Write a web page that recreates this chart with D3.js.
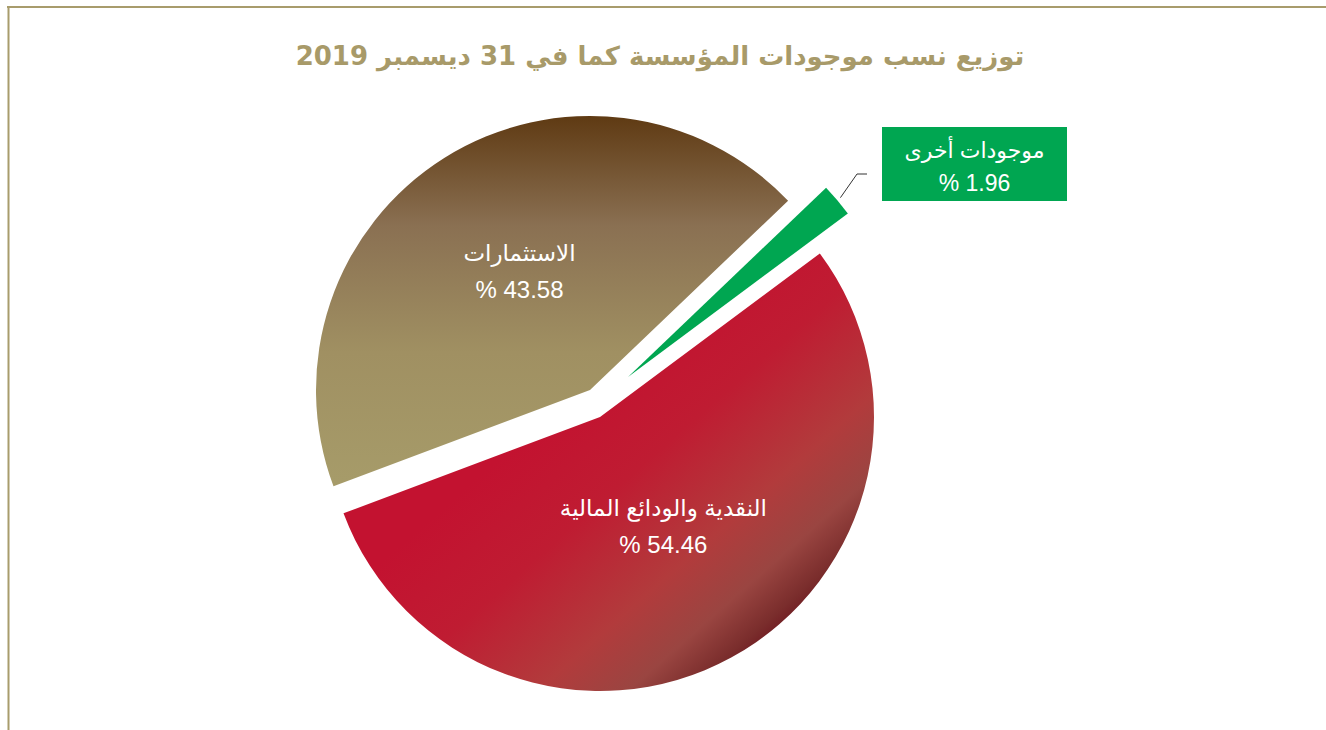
<!DOCTYPE html>
<html>
<head>
<meta charset="utf-8">
<script src="https://cdn.jsdelivr.net/npm/d3@7"></script>
<style>
  body { margin: 0; background: #fff; }
  svg { display: block; }
  .lbl { fill: #fff; font-family: "Liberation Sans", "DejaVu Sans", sans-serif; text-anchor: middle; }
</style>
</head>
<body>
<svg id="chart" width="1326" height="730"></svg>
<script>
// data
var categories = ["موجودات أخرى", "النقدية والودائع المالية", "الاستثمارات"];
var values = [1.96, 54.46, 43.58];
var valueLabels = ["% 1.96", "% 54.46", "% 43.58"];
var title = "توزيع نسب موجودات المؤسسة كما في 31 ديسمبر 2019";

var width = 1326, height = 730;
var cx = 598, cy = 402, radius = 274;
var startDeg = 46.3;
// explode offset of each slice (dx, dy)
var offsets = [[30, -25], [2, 15], [-8, -12]];
var labelRadius = [0, 124, 140];

var svg = d3.select("#chart");
var defs = svg.append("defs");

// gradient coords are local to each slice (origin = slice apex)
var brownGrad = defs.append("linearGradient")
  .attr("id", "gBrown")
  .attr("gradientUnits", "userSpaceOnUse")
  .attr("x1", 0).attr("y1", -radius).attr("x2", 0).attr("y2", 90);
[[0, "#5f3a13"], [0.3, "#8a7052"], [0.65, "#a09062"], [1, "#a69b69"]].forEach(function(s){
  brownGrad.append("stop").attr("offset", s[0]).attr("stop-color", s[1]);
});

var redGrad = defs.append("linearGradient")
  .attr("id", "gRed")
  .attr("gradientUnits", "userSpaceOnUse")
  .attr("x1", -80).attr("y1", 23).attr("x2", 140).attr("y2", 273);
[[0, "#c31230"], [0.3, "#bf1c32"], [0.6, "#b23b3c"], [0.78, "#9a4541"], [0.9, "#7a2d2c"], [1, "#650818"]].forEach(function(s){
  redGrad.append("stop").attr("offset", s[0]).attr("stop-color", s[1]);
});

var fills = ["#00a651", "url(#gRed)", "url(#gBrown)"];

// frame lines
svg.append("line").attr("x1", 7).attr("x2", width).attr("y1", 7).attr("y2", 7)
  .attr("stroke", "#a89c6c").attr("stroke-width", 2);
svg.append("line").attr("x1", 8.5).attr("x2", 8.5).attr("y1", 6).attr("y2", height)
  .attr("stroke", "#a89c6c").attr("stroke-width", 2);

svg.append("text")
  .attr("x", 660).attr("y", 65)
  .attr("text-anchor", "middle")
  .attr("direction", "rtl")
  .style("font-family", "'DejaVu Sans', sans-serif")
  .style("font-weight", "bold")
  .style("font-size", "26px")
  .attr("fill", "#a89a69")
  .text(title);

var pie = d3.pie().sort(null).value(function(d){ return d; })
  .startAngle(startDeg * Math.PI / 180)
  .endAngle((startDeg + 360) * Math.PI / 180);
var arcs = pie(values);
var arc = d3.arc().innerRadius(0).outerRadius(radius);

var slices = svg.append("g").selectAll("g.slice")
  .data(arcs)
  .enter().append("g")
  .attr("class", "slice")
  .attr("transform", function(d, i){ return "translate(" + (cx + offsets[i][0]) + "," + (cy + offsets[i][1]) + ")"; });

slices.append("path")
  .attr("d", arc)
  .attr("fill", function(d, i){ return fills[i]; });

// labels inside the two big slices
slices.filter(function(d, i){ return i > 0; }).each(function(d){
  var i = arcs.indexOf(d);
  var c = d3.arc().innerRadius(labelRadius[i]).outerRadius(labelRadius[i]).centroid(d);
  var g = d3.select(this);
  g.append("text").attr("class", "lbl").attr("direction", "rtl")
    .attr("x", c[0] + 4).attr("y", c[1] - 10)
    .style("font-size", "23px")
    .text(categories[i]);
  g.append("text").attr("class", "lbl").attr("direction", "ltr")
    .style("unicode-bidi", "bidi-override")
    .attr("x", c[0] + 4).attr("y", c[1] + 27)
    .style("font-size", "24px")
    .text(valueLabels[i]);
});

// small slice: leader line and green box
var gs = arcs[0];
var mid = (gs.startAngle + gs.endAngle) / 2;
var gx = cx + offsets[0][0], gy = cy + offsets[0][1];
var p0 = [gx + Math.sin(mid) * (radius + 4), gy - Math.cos(mid) * (radius + 4)];
var p1 = [857, 174];
var p2 = [867, 174];
svg.append("path")
  .attr("d", d3.line()([p0, p1, p2]))
  .attr("fill", "none").attr("stroke", "#333").attr("stroke-width", 1);

var box = { x: 882, y: 127, w: 185, h: 74 };
svg.append("rect")
  .attr("x", box.x).attr("y", box.y).attr("width", box.w).attr("height", box.h)
  .attr("fill", "#00a651");
svg.append("text").attr("class", "lbl").attr("direction", "rtl")
  .attr("x", box.x + box.w / 2).attr("y", box.y + 31)
  .style("font-size", "22px")
  .text(categories[0]);
svg.append("text").attr("class", "lbl").attr("direction", "ltr")
  .style("unicode-bidi", "bidi-override")
  .attr("x", box.x + box.w / 2).attr("y", box.y + 64)
  .style("font-size", "23px")
  .text(valueLabels[0]);
</script>
</body>
</html>
